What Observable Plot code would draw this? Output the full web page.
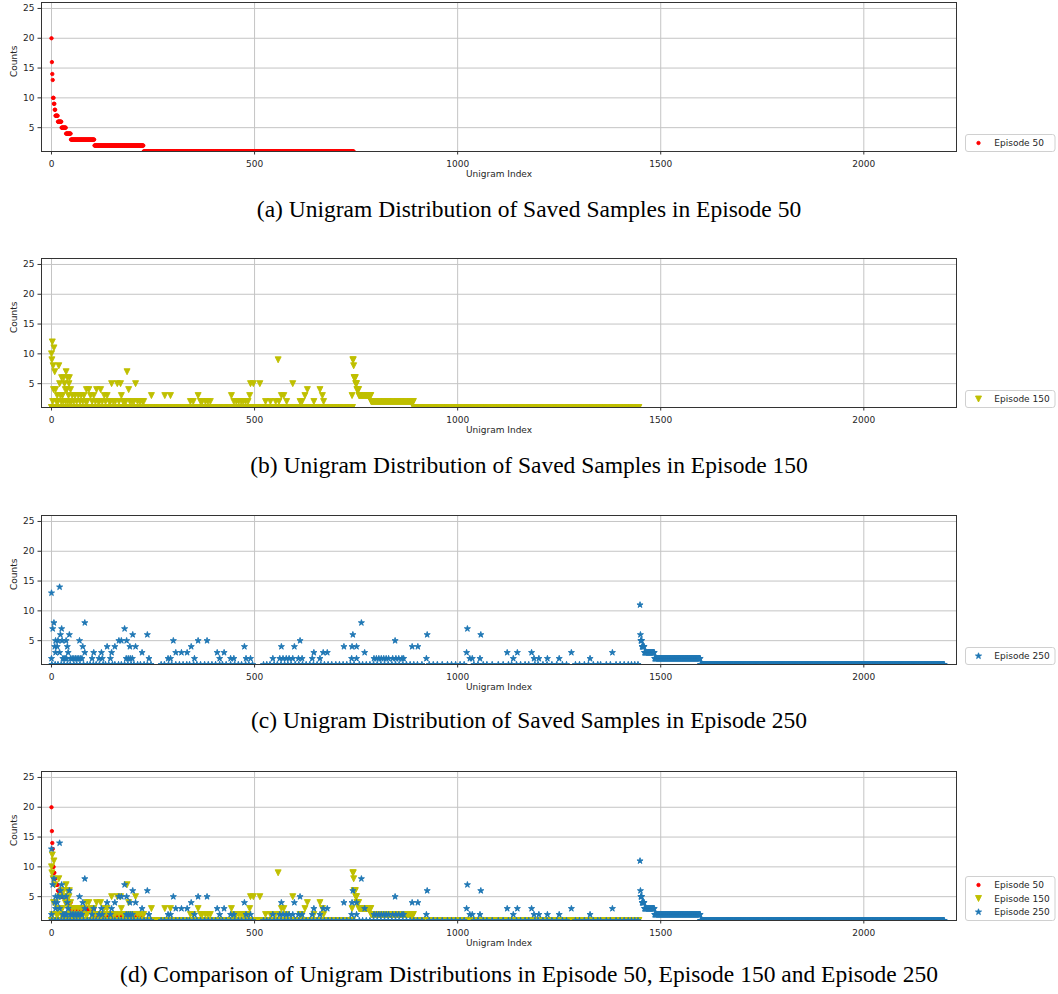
<!DOCTYPE html>
<html>
<head>
<meta charset="utf-8">
<script src="https://cdn.jsdelivr.net/npm/d3@7"></script>
<script src="https://cdn.jsdelivr.net/npm/@observablehq/plot@0.6"></script>
<style>
  body { margin: 0; background: #fff; }
  #root { position: relative; width: 1058px; height: 994px; overflow: hidden; background: #fff; }
  .panel { position: absolute; left: 0; }
  .cap { position: absolute; left: 0; width: 1058px; text-align: center; font-family: "Liberation Serif", "Times New Roman", serif; font-size: 23.5px; line-height: 24px; color: #000; white-space: nowrap; }
  .legend { position: absolute; left: 965px; }
</style>
</head>
<body>
<div id="root"></div>
<script>
// ---------------- DATA ----------------
const xTicks = [0, 500, 1000, 1500, 2000];
const yTicks = [5, 10, 15, 20, 25];
const seriesNames = ["Episode 50", "Episode 150", "Episode 250"];
const seriesColors = ["#ff0000", "#bfbf00", "#1f77b4"];

// Episode 50: counts sorted descending, as [count, number of unigrams], starting at index 0
const ep50Runs = [[20,1],[16,1],[14,1],[13,1],[10,2],[9,2],[8,2],[7,6],[6,9],[5,11],[4,12],[3,58],[2,121],[1,518]];

// Episode 150: scattered part (index 0..741), [index, count] for counts >= 2
const ep150Points = [[0,10],[1,9],[2,12],[4,8],[6,11],[8,7],[5,4],[10,4],[14,3],[18,8],[20,5],[22,3],[25,6],[27,3],[30,6],[32,5],[34,4],[36,7],[38,4],[39,6],[42,3],[43,5],[44,6],[47,4],[51,3],
  [3,2],[12,2],[16,2],[24,2],[29,2],[35,2],[40,2],[45,2],[49,2],[55,2],[58,3],[62,2],[66,3],[70,2],[73,3],[77,2],[80,3],[84,2],[86,4],[88,2],[92,4],[96,3],[100,2],[104,3],[108,2],[111,4],[115,2],[118,2],[121,4],[125,2],[130,3],[133,2],[137,3],[142,2],[145,2],[148,5],[152,2],[157,2],[162,5],[166,2],[170,5],[172,3],[176,2],[180,2],[183,2],[186,7],[190,4],[193,2],[198,2],[203,2],[207,5],[212,2],[218,2],[224,2],[227,2],[246,3],[279,3],[293,3],[342,2],[349,2],[361,3],[367,2],[371,2],[379,2],[385,2],[391,2],[443,3],[449,2],[455,2],[461,2],[467,2],[472,2],[478,2],[484,2],[488,3],[490,5],[497,5],[513,5],[527,2],[539,2],[552,2],[558,9],[560,2],[566,3],[572,3],[579,2],[594,5],[612,2],[617,2],[624,3],[630,4],[646,2],[661,4],[667,3],[670,2],[740,3]];
// Episode 150: index ranges [start, end] holding count 1 in the scattered part
const ep150OnesRanges = [[0,236],[248,262],[266,330],[336,428],[434,558],[564,741]];
// Episode 150: sorted new unigrams from index 742, as [count, number of unigrams]
const ep150TailStart = 742;
const ep150TailRuns = [[9,2],[8,1],[6,4],[5,3],[4,5],[3,30],[2,105],[1,555]];

// Episode 250: scattered part (index 0..1448), [index, count] for counts >= 2
const ep250Points = [[0,13],[20,14],[6,8],[3,7],[25,7],[22,6],[44,6],[10,5],[16,5],[26,5],[36,5],[8,4],[14,4],[39,4],[10,3],[20,3],[41,3],[0,2],[28,2],[31,2],[34,2],[37,2],[47,2],[51,2],[55,2],[59,2],[63,2],[67,2],[71,2],[75,2],[69,5],[77,4],[82,8],[82,3],[100,2],[104,3],[117,2],[123,3],[125,2],[137,4],[145,2],[148,3],[156,4],[166,5],[172,5],[180,7],[185,5],[184,2],[189,2],[194,2],[199,2],[193,4],[200,6],[207,4],[223,3],[236,6],[240,2],
  [287,2],[293,2],[300,5],[306,3],[320,3],[334,3],[344,4],[352,2],[361,5],[383,5],[408,3],[414,2],[425,3],[441,2],[449,2],[475,4],[479,2],[490,2],[545,2],[562,2],[566,4],[570,2],[578,2],[585,2],[594,2],[598,4],[608,2],[612,5],[617,2],[642,2],[646,3],[661,2],[669,3],[679,3],[720,4],[739,2],[740,4],[742,6],[751,2],[751,4],[763,8],[771,3],[794,2],[800,2],[806,2],[812,2],[818,2],[824,2],[830,2],[840,2],[846,5],[848,2],[855,2],[863,2],[867,2],[888,4],[902,4],[923,2],[925,6],[1022,3],[1024,7],[1030,2],[1036,2],[1055,2],[1057,6],[1122,3],[1137,2],[1147,3],[1182,3],[1188,2],[1200,2],[1221,2],[1250,2],[1280,3],[1326,2],[1381,3]];
// Episode 250: indices holding count 1 in the scattered part
const ep250OnesIdx = [1,9,16,24,31,39,46,55,62,70,79,88,95,103,110,118,127,133,141,150,156,165,172,180,188,196,203,212,219,228,236,245,
  270,278,288,296,306,315,324,333,340,350,358,367,377,386,395,404,414,421,430,441,451,460,468,478,486,495,
  522,530,538,548,556,565,574,582,590,600,609,618,627,636,645,654,663,672,681,690,700,709,718,727,736,745,
  758,766,775,784,793,802,811,820,829,838,847,856,865,874,883,892,901,912,930,940,950,962,975,985,995,
  1006,1016,1040,1050,1063,1072,1085,1100,1112,1125,1133,1145,1155,1166,1175,1190,1198,1210,1220,1232,1244,
  1258,1268,1290,1300,1312,1322,1334,1345,1352,1366,1376,1390,1400,1410,1420,1428,1436,1444];
// Episode 250: sorted new unigrams from index 1449, as [count, number of unigrams]
const ep250TailStart = 1449;
const ep250TailRuns = [[11,1],[6,1],[5,3],[4,6],[3,25],[2,113],[1,601]];

// ---------------- BUILD ROWS ----------------
function fromRuns(start, runs) {
  const out = []; let i = start;
  for (const [c, n] of runs) for (let k = 0; k < n; k++) out.push({x: i++, y: c});
  return out;
}
function fromRanges(ranges, c) {
  const out = [];
  for (const [a, b] of ranges) for (let i = a; i <= b; i++) out.push({x: i, y: c});
  return out;
}
const rows = [
  fromRuns(0, ep50Runs),
  [...fromRanges(ep150OnesRanges, 1), ...ep150Points.map(([x, y]) => ({x, y})), ...fromRuns(ep150TailStart, ep150TailRuns)],
  [...ep250OnesIdx.map(x => ({x, y: 1})), ...ep250Points.map(([x, y]) => ({x, y})), ...fromRuns(ep250TailStart, ep250TailRuns)]
];

// ---------------- SYMBOLS ----------------
const triDown = {draw(ctx, size) { const a = Math.sqrt(size / Math.PI); ctx.moveTo(0, a); ctx.lineTo(-a, -a); ctx.lineTo(a, -a); ctx.closePath(); }};
const star5 = {draw(ctx, size) {
  const R = Math.sqrt(size / Math.PI), r = R * 0.381966;
  for (let i = 0; i < 10; i++) {
    const ang = -Math.PI / 2 + i * Math.PI / 5, rad = i % 2 ? r : R;
    const x = rad * Math.cos(ang), y = rad * Math.sin(ang);
    if (i) ctx.lineTo(x, y); else ctx.moveTo(x, y);
  }
  ctx.closePath();
}};
const seriesSymbols = [d3.symbolCircle, triDown, star5];
const seriesR = [1.7, 3, 3.2];

// ---------------- LAYOUT ----------------
const W = 1058, ML = 41, MR = W - 956, MT = 8, MB = 40, FH = 149;
const xDomain = [-24.6, 2228.2];
const yDomain = [1, 26];

const panels = [
  {frameTop: 1.7, series: [0], caption: "(a) Unigram Distribution of Saved Samples in Episode 50", capCenter: 208.5},
  {frameTop: 258.3, series: [1], caption: "(b) Unigram Distribution of Saved Samples in Episode 150", capCenter: 465},
  {frameTop: 514.7, series: [2], caption: "(c) Unigram Distribution of Saved Samples in Episode 250", capCenter: 719.5},
  {frameTop: 770.7, series: [0, 1, 2], caption: "(d) Comparison of Unigram Distributions in Episode 50, Episode 150 and Episode 250", capCenter: 974}
];

const root = document.getElementById("root");

for (const p of panels) {
  const dataMarks = p.series.map(s => Plot.dot(rows[s], {
    x: "x", y: "y", r: seriesR[s], symbol: seriesSymbols[s],
    fill: seriesColors[s], stroke: seriesColors[s], strokeWidth: 0.9, clip: true
  }));
  const chart = Plot.plot({
    width: W, height: MT + FH + MB,
    marginLeft: ML, marginRight: MR, marginTop: MT, marginBottom: MB,
    x: {domain: xDomain}, y: {domain: yDomain},
    style: {fontFamily: "DejaVu Sans", fontSize: "9px", color: "#262626", background: "transparent", overflow: "visible"},
    marks: [
      Plot.gridX(xTicks, {stroke: "#c4c4c4", strokeOpacity: 1, strokeWidth: 1}),
      Plot.gridY(yTicks, {stroke: "#c4c4c4", strokeOpacity: 1, strokeWidth: 1}),
      ...dataMarks,
      Plot.frame({stroke: "#333", strokeWidth: 1}),
      Plot.axisX(xTicks, {tickSize: 3.5, tickPadding: 5.5, label: null, stroke: "#333", tickFormat: d => String(d)}),
      Plot.axisY(yTicks, {tickSize: 3.5, tickPadding: 3.5, label: null, stroke: "#333", tickFormat: d => String(d)}),
      Plot.text(["Unigram Index"], {frameAnchor: "bottom", dy: 25, fontSize: 9}),
      Plot.text(["Counts"], {frameAnchor: "left", dx: -27.5, rotate: -90, fontSize: 9})
    ]
  });
  const wrap = document.createElement("div");
  wrap.className = "panel";
  wrap.style.top = (p.frameTop - MT) + "px";
  wrap.appendChild(chart);
  root.appendChild(wrap);

  // legend
  const rowH = 13.5, padT = 8.5;
  const h = padT * 2 + rowH * (p.series.length - 1);
  const lg = d3.create("svg").attr("width", 92).attr("height", h + 2)
    .style("font-family", "DejaVu Sans").style("font-size", "9px").style("overflow", "visible");
  lg.append("rect").attr("x", 0.5).attr("y", 0.5).attr("width", 89.5).attr("height", h)
    .attr("rx", 2.5).attr("fill", "#fff").attr("stroke", "#d0d0d0");
  p.series.forEach((s, i) => {
    const cy = 0.5 + padT + i * rowH;
    lg.append("path").attr("transform", `translate(13.5,${cy})`)
      .attr("d", d3.symbol(seriesSymbols[s], Math.PI * seriesR[s] * seriesR[s])())
      .attr("fill", seriesColors[s]).attr("stroke", seriesColors[s]).attr("stroke-width", 0.9);
    lg.append("text").attr("x", 29.3).attr("y", cy).attr("dy", "0.35em").attr("fill", "#262626").text(seriesNames[s]);
  });
  const lgDiv = document.createElement("div");
  lgDiv.className = "legend";
  lgDiv.style.top = (p.frameTop + FH - h) + "px";
  lgDiv.appendChild(lg.node());
  root.appendChild(lgDiv);

  // caption
  const cap = document.createElement("div");
  cap.className = "cap";
  cap.style.top = (p.capCenter - 12) + "px";
  cap.textContent = p.caption;
  root.appendChild(cap);
}
</script>
</body>
</html>
